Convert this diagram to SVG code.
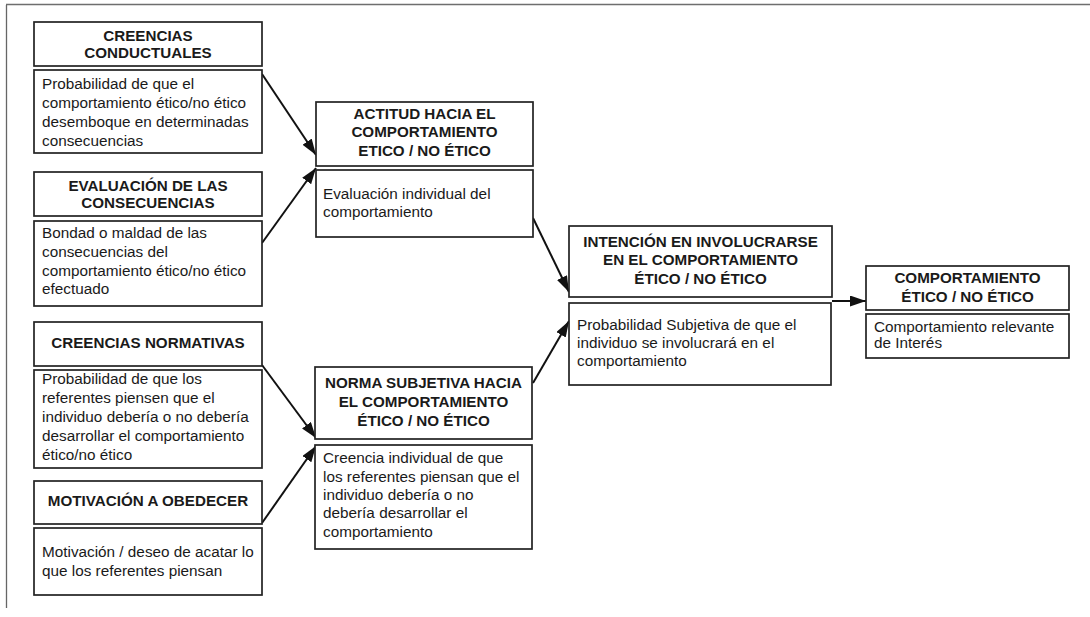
<svg xmlns="http://www.w3.org/2000/svg" width="1090" height="617" viewBox="0 0 1090 617">
  <defs>
    <marker id="arrowhead" markerUnits="userSpaceOnUse" markerWidth="17" markerHeight="12" refX="16" refY="5.5" orient="auto">
      <path d="M0,0 L16,5.5 L0,11 Z" fill="#111"/>
    </marker>
    <style>
      .box { fill: #fff; stroke: #222; stroke-width: 1.7; }
      .hd { font-family: "Liberation Sans", Arial, sans-serif; font-size: 15.2px; font-weight: bold; fill: #1a1a1a; text-anchor: middle; }
      .tx { font-family: "Liberation Sans", Arial, sans-serif; font-size: 15.3px; fill: #1a1a1a; }
      .link { stroke: #111; stroke-width: 2; fill: none; marker-end: url(#arrowhead); }
      .frame { stroke: #666; stroke-width: 1.3; fill: none; }
    </style>
  </defs>

  <rect width="1090" height="617" fill="#fff"/>

  <!-- page frame -->
  <g id="frame">
    <line class="frame" x1="6.5" y1="5" x2="6.5" y2="608"/>
    <line x1="6" y1="4.5" x2="1090" y2="4.5" stroke="#6e6e6e" stroke-width="1.5"/>
  </g>

  <!-- connectors -->
  <g id="connectors">
    <line class="link" x1="262" y1="74" x2="316" y2="155"/>
    <line class="link" x1="262" y1="243" x2="316" y2="168"/>
    <line class="link" x1="262" y1="365" x2="316" y2="438"/>
    <line class="link" x1="262" y1="523" x2="316" y2="446"/>
    <line class="link" x1="533" y1="218" x2="569" y2="292"/>
    <line class="link" x1="533" y1="383" x2="569" y2="321"/>
    <line class="link" x1="832" y1="301" x2="866" y2="301"/>
  </g>

  <!-- behavioural beliefs -->
  <g id="creencias-conductuales">
    <rect class="box" x="34" y="22" width="228" height="44"/>
    <text class="hd" x="148" y="41">CREENCIAS</text>
    <text class="hd" x="148" y="58">CONDUCTUALES</text>
    <rect class="box" x="34" y="70" width="228" height="83"/>
    <text class="tx" x="42" y="89">Probabilidad de que el</text>
    <text class="tx" x="42" y="108">comportamiento ético/no ético</text>
    <text class="tx" x="42" y="127">desemboque en determinadas</text>
    <text class="tx" x="42" y="146">consecuencias</text>
  </g>

  <!-- evaluation of consequences -->
  <g id="evaluacion-consecuencias">
    <rect class="box" x="34" y="172" width="228" height="44"/>
    <text class="hd" x="148" y="191">EVALUACIÓN DE LAS</text>
    <text class="hd" x="148" y="208">CONSECUENCIAS</text>
    <rect class="box" x="34" y="221" width="228" height="85"/>
    <text class="tx" x="42" y="238">Bondad o maldad de las</text>
    <text class="tx" x="42" y="257">consecuencias del</text>
    <text class="tx" x="42" y="276">comportamiento ético/no ético</text>
    <text class="tx" x="42" y="294">efectuado</text>
  </g>

  <!-- normative beliefs -->
  <g id="creencias-normativas">
    <rect class="box" x="34" y="322" width="228" height="44"/>
    <text class="hd" x="148" y="348">CREENCIAS NORMATIVAS</text>
    <rect class="box" x="34" y="370" width="228" height="98"/>
    <text class="tx" x="42" y="384">Probabilidad de que los</text>
    <text class="tx" x="42" y="403">referentes piensen que el</text>
    <text class="tx" x="42" y="422">individuo debería o no debería</text>
    <text class="tx" x="42" y="441">desarrollar el comportamiento</text>
    <text class="tx" x="42" y="460">ético/no ético</text>
  </g>

  <!-- motivation to comply -->
  <g id="motivacion-obedecer">
    <rect class="box" x="34" y="481" width="228" height="43"/>
    <text class="hd" x="148" y="506">MOTIVACIÓN A OBEDECER</text>
    <rect class="box" x="34" y="528" width="228" height="67"/>
    <text class="tx" x="42" y="557">Motivación / deseo de acatar lo</text>
    <text class="tx" x="42" y="576">que los referentes piensan</text>
  </g>

  <!-- attitude -->
  <g id="actitud">
    <rect class="box" x="316" y="102" width="217" height="64"/>
    <text class="hd" x="424.5" y="119">ACTITUD HACIA EL</text>
    <text class="hd" x="424.5" y="137">COMPORTAMIENTO</text>
    <text class="hd" x="424.5" y="156">ETICO / NO ÉTICO</text>
    <rect class="box" x="316" y="170" width="217" height="67"/>
    <text class="tx" x="323" y="199">Evaluación individual del</text>
    <text class="tx" x="323" y="217">comportamiento</text>
  </g>

  <!-- subjective norm -->
  <g id="norma-subjetiva">
    <rect class="box" x="315" y="367" width="217" height="72"/>
    <text class="hd" x="423.5" y="388">NORMA SUBJETIVA HACIA</text>
    <text class="hd" x="423.5" y="407">EL COMPORTAMIENTO</text>
    <text class="hd" x="423.5" y="426">ÉTICO / NO ÉTICO</text>
    <rect class="box" x="315" y="445" width="217" height="104"/>
    <text class="tx" x="323" y="463">Creencia individual de que</text>
    <text class="tx" x="323" y="482">los referentes piensan que el</text>
    <text class="tx" x="323" y="500">individuo debería o no</text>
    <text class="tx" x="323" y="518">debería desarrollar el</text>
    <text class="tx" x="323" y="537">comportamiento</text>
  </g>

  <!-- intention -->
  <g id="intencion">
    <rect class="box" x="569" y="226" width="263" height="71"/>
    <text class="hd" x="700.5" y="247">INTENCIÓN EN INVOLUCRARSE</text>
    <text class="hd" x="700.5" y="265">EN EL COMPORTAMIENTO</text>
    <text class="hd" x="700.5" y="284">ÉTICO / NO ÉTICO</text>
    <rect class="box" x="569" y="303" width="262" height="82"/>
    <text class="tx" x="577" y="330">Probabilidad Subjetiva de que el</text>
    <text class="tx" x="577" y="348">individuo se involucrará en el</text>
    <text class="tx" x="577" y="366">comportamiento</text>
  </g>

  <!-- behaviour -->
  <g id="comportamiento">
    <rect class="box" x="866" y="266" width="203" height="44"/>
    <text class="hd" x="967.5" y="283">COMPORTAMIENTO</text>
    <text class="hd" x="967.5" y="302">ÉTICO / NO ÉTICO</text>
    <rect class="box" x="866" y="314" width="203" height="44"/>
    <text class="tx" x="874" y="332">Comportamiento relevante</text>
    <text class="tx" x="874" y="348">de Interés</text>
  </g>
</svg>
